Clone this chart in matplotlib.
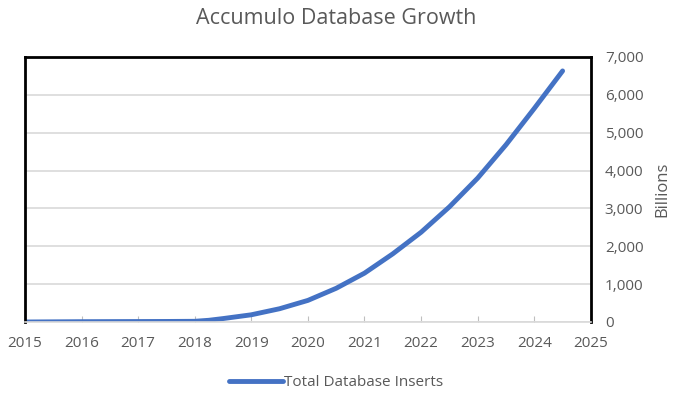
import matplotlib.pyplot as plt

plt.rcParams['font.family'] = ['Open Sans', 'DejaVu Sans']

years = [2015.0, 2015.5, 2016.0, 2016.5, 2017.0, 2017.5, 2018.0, 2018.25, 2018.5,
         2018.75, 2019.0, 2019.5, 2020.0, 2020.5, 2021.0, 2021.5, 2022.0, 2022.5,
         2023.0, 2023.5, 2024.0, 2024.5]
inserts = [0, 4, 8, 10, 12, 14, 18, 45, 90, 140, 190, 350, 570, 890, 1290, 1800,
           2370, 3040, 3800, 4680, 5640, 6630]

gray = '#595959'
fig = plt.figure(figsize=(6.73, 3.98), dpi=100)
ax = fig.add_axes([0.037, 0.191, 0.841, 0.666])

ax.plot(years, inserts, color='#4472C4', lw=3.5, solid_capstyle='round',
        solid_joinstyle='round', label='Total Database Inserts')

ax.set_xlim(2015, 2025)
ax.set_ylim(0, 7000)
ax.set_xticks(range(2015, 2026))
ax.set_yticks(range(0, 7001, 1000))
ax.set_yticklabels([f'{v:,}' for v in range(0, 7001, 1000)])
ax.yaxis.tick_right()
ax.yaxis.set_label_position('right')
ax.set_ylabel('Billions', color=gray, fontsize=12, labelpad=8)
ax.tick_params(axis='y', length=0, labelsize=11, labelcolor=gray, pad=10)
ax.tick_params(axis='x', direction='in', length=4, color='#bfbfbf',
               labelsize=11, labelcolor=gray, pad=10)
ax.grid(axis='y', color='#d9d9d9', lw=1.2)
ax.set_axisbelow(True)

for s in ['left', 'top', 'right']:
    ax.spines[s].set_color('black')
    ax.spines[s].set_linewidth(2)
ax.spines['bottom'].set_color('#d9d9d9')
ax.spines['bottom'].set_linewidth(1.2)

fig.suptitle('Accumulo Database Growth', y=0.98, fontsize=15.5, color=gray)
fig.legend(loc='lower center', bbox_to_anchor=(0.5, -0.015), frameon=False,
           fontsize=11, labelcolor=gray, handlelength=3.5, handletextpad=0.1)

fig.savefig('out.png')
